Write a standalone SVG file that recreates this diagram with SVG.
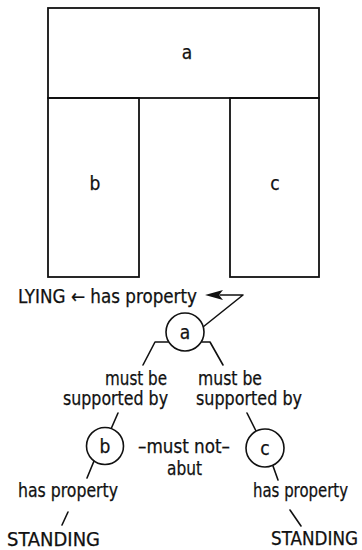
<svg xmlns="http://www.w3.org/2000/svg" width="362" height="550" viewBox="0 0 362 550">
<style>
text{font-family:"DejaVu Sans Condensed","DejaVu Sans","Liberation Sans",sans-serif;font-size:19px;fill:#111;stroke:#111;stroke-width:0.25}
.c{text-anchor:middle}
.box{fill:none;stroke:#111;stroke-width:1.8}
.node{fill:#fff;stroke:#111;stroke-width:1.6}
.ln{fill:none;stroke:#111;stroke-width:1.6;stroke-linecap:round;stroke-linejoin:round}
</style>
<rect width="362" height="550" fill="#fff"/>
<g id="plan">
<rect class="box" x="48" y="8" width="271" height="90"/>
<rect class="box" x="48" y="98" width="91" height="179"/>
<rect class="box" x="230" y="98" width="89" height="179"/>
<text class="c" x="187" y="59">a</text>
<text class="c" x="95" y="190">b</text>
<text class="c" x="275" y="190">c</text>
</g>
<g id="connectors">
<polyline class="ln" points="203,327 243,295 220,295"/>
<path d="M205,295 L223,290 L219,295 L223,300 Z" fill="#111"/>
<polyline class="ln" points="168,342 155,342 143,365"/>
<polyline class="ln" points="202,342 210,342 223,365"/>
<line class="ln" x1="118" y1="413" x2="111" y2="429"/>
<line class="ln" x1="247" y1="413" x2="256" y2="431"/>
<line class="ln" x1="94" y1="461" x2="87" y2="478"/>
<line class="ln" x1="273" y1="466" x2="278" y2="480"/>
<line class="ln" x1="68" y1="512" x2="62" y2="525"/>
<line class="ln" x1="290" y1="510" x2="301" y2="526"/>
</g>
<g id="lying">
<text x="18" y="303" textLength="179" lengthAdjust="spacingAndGlyphs">LYING ← has property</text>
</g>
<g id="node-a">
<circle class="node" cx="185" cy="332" r="19"/>
<text class="c" x="185" y="339">a</text>
</g>
<g id="label-ab">
<text x="105" y="385" textLength="62" lengthAdjust="spacingAndGlyphs">must be</text>
<text x="63" y="405" textLength="105" lengthAdjust="spacingAndGlyphs">supported by</text>
</g>
<g id="label-ac">
<text x="198" y="385" textLength="64" lengthAdjust="spacingAndGlyphs">must be</text>
<text x="196" y="405" textLength="106" lengthAdjust="spacingAndGlyphs">supported by</text>
</g>
<g id="node-b">
<circle class="node" cx="105" cy="446" r="18.5"/>
<text class="c" x="105" y="453">b</text>
</g>
<g id="label-bc">
<text x="138" y="453" textLength="92" lengthAdjust="spacingAndGlyphs">–must not–</text>
<text x="167" y="475" textLength="35" lengthAdjust="spacingAndGlyphs">abut</text>
</g>
<g id="node-c">
<circle class="node" cx="265" cy="448" r="19"/>
<text class="c" x="265" y="455">c</text>
</g>
<g id="standing-b">
<text x="18" y="497" textLength="100" lengthAdjust="spacingAndGlyphs">has property</text>
<text x="7" y="546" textLength="93" lengthAdjust="spacingAndGlyphs">STANDING</text>
</g>
<g id="standing-c">
<text x="253" y="497" textLength="95" lengthAdjust="spacingAndGlyphs">has property</text>
<text x="271" y="545" textLength="87" lengthAdjust="spacingAndGlyphs">STANDING</text>
</g>
</svg>
